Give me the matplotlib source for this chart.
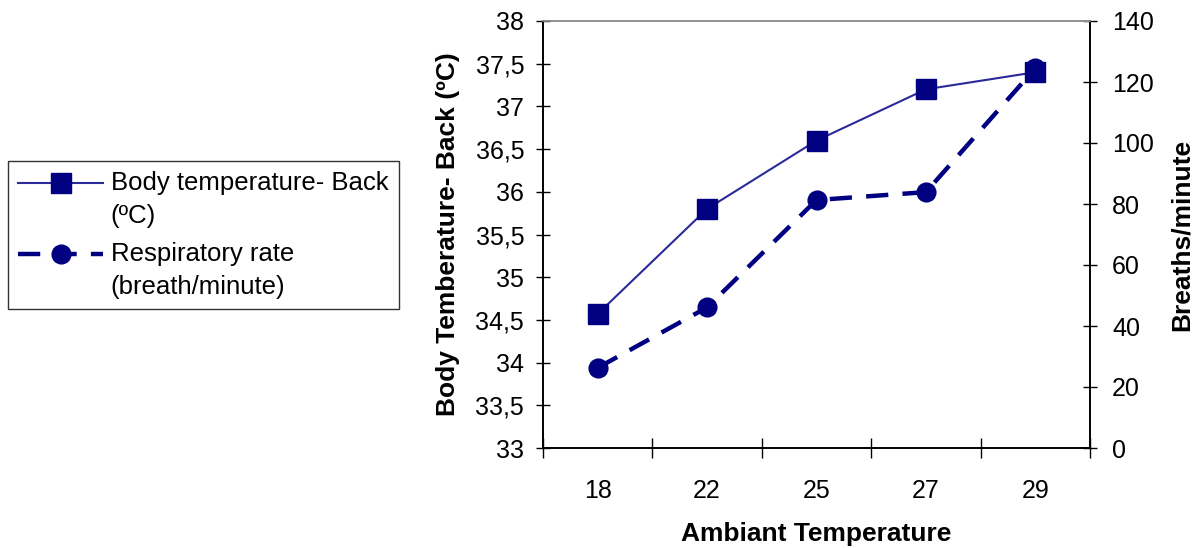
import numpy as np
import matplotlib
matplotlib.use("Agg")
import matplotlib.pyplot as plt
from matplotlib.ticker import FuncFormatter
from matplotlib.legend_handler import HandlerLine2D

plt.rcParams['font.family'] = ['Liberation Sans', 'DejaVu Sans']

# Data
ambient = ['18', '22', '25', '27', '29']
body_temp = [34.57, 35.8, 36.6, 37.2, 37.4]
resp_rate = [26.3, 46.1, 81.3, 83.9, 124.5]

navy = '#000080'


class TopLineHandler(HandlerLine2D):
    # put the legend symbol level with the first line of a two-line label
    def create_artists(self, legend, orig_handle, xdescent, ydescent,
                       width, height, fontsize, trans):
        arts = super().create_artists(legend, orig_handle, xdescent, ydescent,
                                      width, height, fontsize, trans)
        for a in arts:
            a.set_ydata(np.asarray(a.get_ydata()) + 12)
        return arts


fig = plt.figure(figsize=(11.94, 5.48), dpi=100)
ax = fig.add_axes([543 / 1194, 100 / 548, 547 / 1194, 427 / 548])
ax2 = ax.twinx()

x = np.arange(len(ambient))

# Body temperature on the left axis
l1, = ax.plot(x, body_temp, color='#2a2a9a', lw=1.5, marker='s', ms=15,
              mfc=navy, mec=navy, label='Body temperature- Back\n(ºC)')

# Respiratory rate on the right axis
l2, = ax2.plot(x, resp_rate, color=navy, lw=3.2, marker='o', ms=13.5,
               mfc=navy, mec=navy, dashes=(5, 3.2), label='Respiratory rate\n(breath/minute)')
ax.set_zorder(ax2.get_zorder() + 1)
ax.patch.set_visible(False)

ax.set_xlim(-0.5, len(ambient) - 0.5)
ax.set_ylim(33, 38)
ax.set_yticks(np.arange(33, 38.01, 0.5))
ax.yaxis.set_major_formatter(FuncFormatter(lambda v, p: ('%g' % v).replace('.', ',')))
ax2.set_ylim(0, 140)
ax2.set_yticks(np.arange(0, 141, 20))

# category boundaries get the tick marks, labels sit in between
ax.set_xticks(np.arange(-0.5, len(ambient), 1))
ax.set_xticklabels([])
ax.set_xticks(x, minor=True)
ax.set_xticklabels(ambient, minor=True)
ax.tick_params(axis='x', which='minor', length=0, pad=22, labelsize=18)
ax.tick_params(axis='x', which='major', direction='inout', length=14, width=1)
ax.tick_params(axis='y', direction='inout', length=10, width=1, labelsize=18, pad=8.5)
ax2.tick_params(axis='y', direction='inout', length=10, width=1, labelsize=18, pad=11)

for a in (ax, ax2):
    for s in a.spines.values():
        s.set_color('black')
        s.set_linewidth(1.2)
    a.spines['top'].set_color('#909090')

ax.set_ylabel('Body Temberature- Back (ºC)', fontsize=19, fontweight='bold', labelpad=11)
ax2.set_ylabel('Breaths/minute', fontsize=19, fontweight='bold', labelpad=11)
ax.set_xlabel('Ambiant Temperature', fontsize=19, fontweight='bold', labelpad=14)

leg = fig.legend(handles=[l1, l2], loc='upper left',
                 bbox_to_anchor=(8 / 1194, 1 - 161 / 548), fontsize=18.5,
                 frameon=True, fancybox=False, edgecolor='black',
                 handlelength=3.3, handletextpad=0.3, labelspacing=0.55,
                 borderpad=0.4, borderaxespad=0,
                 handler_map={l1: TopLineHandler(), l2: TopLineHandler()})
leg.get_frame().set_linewidth(1.0)
for t in leg.get_texts():
    t.set_linespacing(1.45)

fig.savefig('out.png', dpi=100)
